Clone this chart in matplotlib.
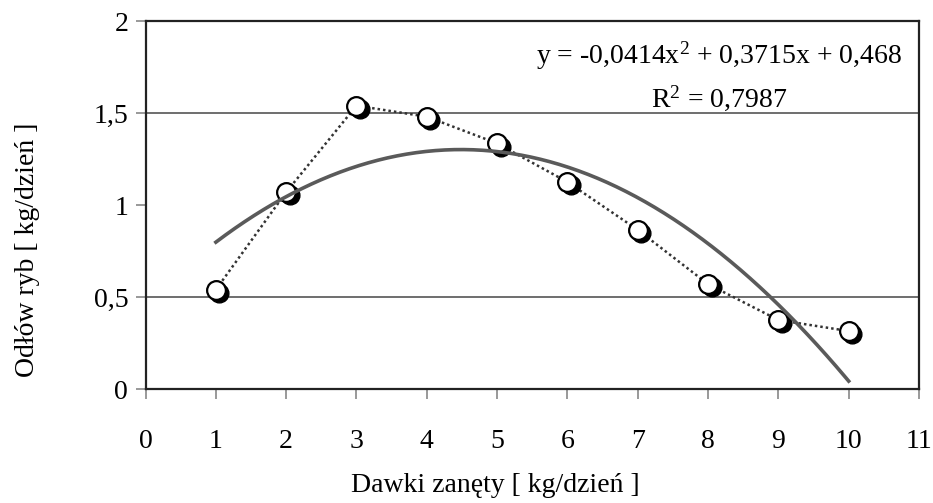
import numpy as np
import matplotlib
matplotlib.use("Agg")
import matplotlib.pyplot as plt
from matplotlib.transforms import offset_copy

# Data
doses = [1, 2, 3, 4, 5, 6, 7, 8, 9, 10]
catch = [0.54, 1.07, 1.54, 1.48, 1.335, 1.125, 0.865, 0.57, 0.375, 0.315]
trend_coef = [-0.0414, 0.3715, 0.468]
x_ticks = [0, 1, 2, 3, 4, 5, 6, 7, 8, 9, 10, 11]
y_ticks = [0, 0.5, 1, 1.5, 2]
y_tick_labels = ["0", "0,5", "1", "1,5", "2"]
grid_levels = [0.5, 1.5]
eq_text = "y = -0,0414x$^2$ + 0,3715x + 0,468"
r2_text = "R$^2$ = 0,7987"
xlabel = "Dawki zanęty [ kg/dzień ]"
ylabel = "Odłów ryb [ kg/dzień ]"

plt.rcParams["font.family"] = ["Liberation Serif", "DejaVu Serif"]
plt.rcParams["mathtext.fontset"] = "custom"
plt.rcParams["mathtext.rm"] = "Liberation Serif"
plt.rcParams["mathtext.it"] = "Liberation Serif"

FS = 20

fig = plt.figure(figsize=(9.33, 5.03), dpi=100)
ax = fig.add_axes([0.156, 0.2266, 0.829, 0.7316])

ax.set_xlim(0, 11)
ax.set_ylim(0, 2)

for g in grid_levels:
    ax.axhline(g, color="#555555", lw=1.2, zorder=1)

# dotted connecting line
ax.plot(doses, catch, linestyle=(0, (1, 1.2)), color="#333333", lw=1.8, zorder=2)

# shadow markers
shadow = offset_copy(ax.transData, fig=fig, x=2.6, y=-2.4, units="points")
ax.plot(doses, catch, linestyle="none", marker="o", markersize=13.5,
        markerfacecolor="black", markeredgecolor="black", transform=shadow, zorder=3)
# white markers
ax.plot(doses, catch, linestyle="none", marker="o", markersize=13.5,
        markerfacecolor="white", markeredgecolor="black", markeredgewidth=1.6, zorder=4)

# trend line
xt = np.linspace(doses[0], doses[-1], 200)
ax.plot(xt, np.polyval(trend_coef, xt), color="#5a5a5a", lw=2.6, zorder=5)

ax.set_xticks(x_ticks)
ax.set_xticklabels([str(t) for t in x_ticks])
ax.set_yticks(y_ticks)
ax.set_yticklabels(y_tick_labels)
ax.tick_params(axis="x", direction="out", length=7.5, width=1.2, color="#888888",
               labelsize=FS, pad=21)
ax.tick_params(axis="y", direction="out", length=7.5, width=1.2, color="#888888",
               labelsize=FS, pad=5)

for s in ax.spines.values():
    s.set_linewidth(1.6)
    s.set_color("#222222")

ax.text(0.742, 0.905, eq_text, transform=ax.transAxes, fontsize=FS,
        ha="center", va="center", zorder=6)
ax.text(0.742, 0.79, r2_text, transform=ax.transAxes, fontsize=FS,
        ha="center", va="center", zorder=6)

fig.text(0.531, 0.035, xlabel, fontsize=FS, ha="center", va="center")
fig.text(0.029, 0.503, ylabel, fontsize=FS, ha="center", va="center", rotation=90)

fig.savefig("out.png", dpi=100)
